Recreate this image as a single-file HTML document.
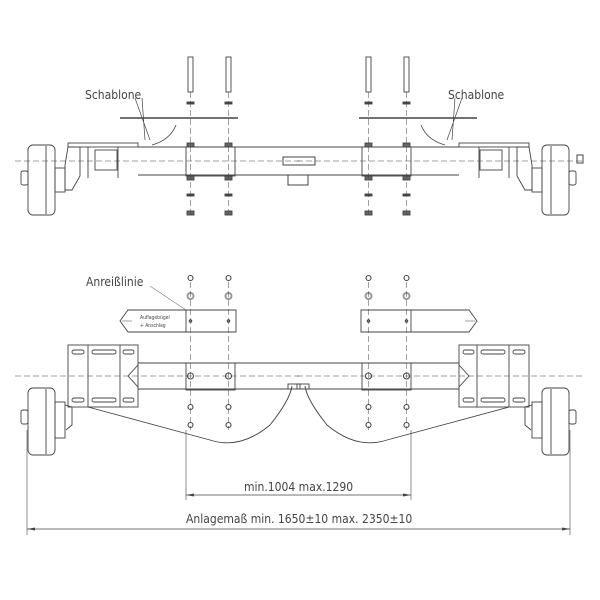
<!DOCTYPE html>
<html><head><meta charset="utf-8"><style>body{margin:0;background:#fff}svg{display:block}</style></head><body>
<svg width="600" height="600" viewBox="0 0 600 600" xmlns="http://www.w3.org/2000/svg" font-family="Liberation Sans Narrow, DejaVu Sans Condensed, Liberation Sans, sans-serif">
<defs>
<g id="half" fill="none" stroke="#444" stroke-width="0.9">
  <!-- TOP VIEW -->
  <line x1="120" y1="118" x2="238" y2="118" stroke-width="1.5"/>
  <path d="M135 98 L150 140 M142 98 L145 140" stroke-width="0.7"/>
  <path d="M176 125 Q170 140 152 145" stroke-width="0.8"/>
  <rect x="68" y="143" width="70" height="4" />
  <path d="M68 147 L80 147 L80 176 L72 190 L65 190 L65 165 Z"/>
  <rect x="95" y="150" width="22" height="20"/>
  <line x1="88" y1="147" x2="88" y2="178"/><line x1="118" y1="147" x2="118" y2="178"/>
  <line x1="138" y1="147" x2="300" y2="147"/><line x1="138" y1="175" x2="300" y2="175"/>
  <rect x="186" y="147" width="49" height="29"/>
  <rect x="28" y="145" width="27" height="70" rx="5"/>
  <line x1="46" y1="146" x2="46" y2="214"/>
  <rect x="55" y="168" width="10" height="24"/>
  <rect x="21" y="171" width="7" height="14" rx="2"/>
  <rect x="188" y="57" width="5" height="35"/><rect x="226" y="57" width="5" height="35"/>
  <rect x="187" y="102" width="7" height="2" fill="#444"/><rect x="225" y="102" width="7" height="2" fill="#444"/>
  <rect x="187" y="143" width="7" height="4" fill="#666"/><rect x="225" y="143" width="7" height="4" fill="#666"/>
  <rect x="187" y="176" width="7" height="4" fill="#666"/><rect x="225" y="176" width="7" height="4" fill="#666"/>
  <rect x="187" y="194" width="7" height="2" fill="#444"/><rect x="225" y="194" width="7" height="2" fill="#444"/>
  <rect x="187" y="211" width="7" height="4" fill="#666"/><rect x="225" y="211" width="7" height="4" fill="#666"/>
  <g stroke-dasharray="6,3" stroke-width="0.5">
    <line x1="190.5" y1="92" x2="190.5" y2="218"/><line x1="228.5" y1="92" x2="228.5" y2="218"/>
    <line x1="15" y1="161" x2="300" y2="161"/>
  </g>
  <!-- BOTTOM VIEW -->
  <path d="M128 310 L236 310 L236 332 L128 332 L120 321 Z"/>
  <line x1="186" y1="310" x2="186" y2="332"/>
  <line x1="122" y1="321" x2="132" y2="321" stroke-width="0.5"/>
  <rect x="68" y="345" width="70" height="62"/>
  <line x1="88" y1="345" x2="88" y2="407"/><line x1="120" y1="345" x2="120" y2="407"/>
  <rect x="72" y="350" width="12" height="4" rx="2"/><rect x="92" y="350" width="24" height="4" rx="2"/><rect x="123" y="350" width="11" height="4" rx="2"/>
  <rect x="72" y="398" width="12" height="4" rx="2"/><rect x="92" y="398" width="24" height="4" rx="2"/><rect x="123" y="398" width="11" height="4" rx="2"/>
  <path d="M138 363 L300 363 M138 389 L300 389 M138 365 L128 376 L138 387"/>
  <rect x="186" y="363" width="49" height="27"/>
  <rect x="28" y="388" width="27" height="67" rx="5"/>
  <line x1="46" y1="389" x2="46" y2="454"/>
  <rect x="55" y="402" width="10" height="36"/>
  <path d="M65 405 L72 407 L72 425 L66 430"/>
  <rect x="21" y="410" width="7" height="14" rx="2"/>
  <path d="M88 407 L210 440 Q240 450 270 425 Q290 400 292 386" />
  <rect x="288" y="384" width="12" height="5"/>
  <g stroke-width="1.1">
    <circle cx="190.5" cy="278" r="2.5"/><circle cx="228.5" cy="278" r="2.5"/>
    <circle cx="190.5" cy="296" r="3" stroke="#999" stroke-width="2"/><circle cx="228.5" cy="296" r="3" stroke="#999" stroke-width="2"/>
    <circle cx="190.5" cy="321" r="1.2"/><circle cx="228.5" cy="321" r="1.2"/>
    <circle cx="190.5" cy="376" r="3"/><circle cx="228.5" cy="376" r="3"/>
    <circle cx="190.5" cy="407" r="2.5"/><circle cx="228.5" cy="407" r="2.5"/>
    <circle cx="190.5" cy="425" r="2.5"/><circle cx="228.5" cy="425" r="2.5"/>
  </g>
  <g stroke-dasharray="6,3" stroke-width="0.5">
    <line x1="190.5" y1="282" x2="190.5" y2="430"/><line x1="228.5" y1="282" x2="228.5" y2="430"/>
    <line x1="15" y1="376" x2="300" y2="376"/>
  </g>
  <line x1="186" y1="430" x2="186" y2="500" stroke-width="0.6"/>
  <line x1="27" y1="430" x2="27" y2="535" stroke-width="0.6"/>
  <path d="M186 495 L194 493.5 L194 496.5 Z M27 529 L35 527.5 L35 530.5 Z" fill="#444" stroke="none"/>
</g>
</defs>
<use href="#half"/>
<use href="#half" transform="translate(597,0) scale(-1,1)"/>
<rect x="283" y="157" width="32" height="8" fill="none" stroke="#444"/>
<rect x="288" y="175" width="20" height="10" fill="none" stroke="#444"/>
<rect x="577" y="155" width="6" height="8" fill="none" stroke="#444"/>
<g stroke="#444" stroke-width="0.7" fill="none">
  <line x1="186" y1="495" x2="411" y2="495"/>
  <line x1="27" y1="529" x2="570" y2="529"/>
  <path d="M150 286 L186 310" stroke-width="0.5"/>
</g>
<g fill="#444" font-size="12">
  <text x="85" y="99">Schablone</text>
  <text x="448" y="99">Schablone</text>
  <text x="86" y="286">Anreißlinie</text>
  <text x="244" y="491">min.1004 max.1290</text>
  <text x="186" y="523">Anlagemaß min. 1650±10 max. 2350±10</text>
  <text x="140" y="319" font-size="5">Auflagebügel</text>
  <text x="140" y="327" font-size="5">+ Anschlag</text>
</g>
</svg>
</body></html>
